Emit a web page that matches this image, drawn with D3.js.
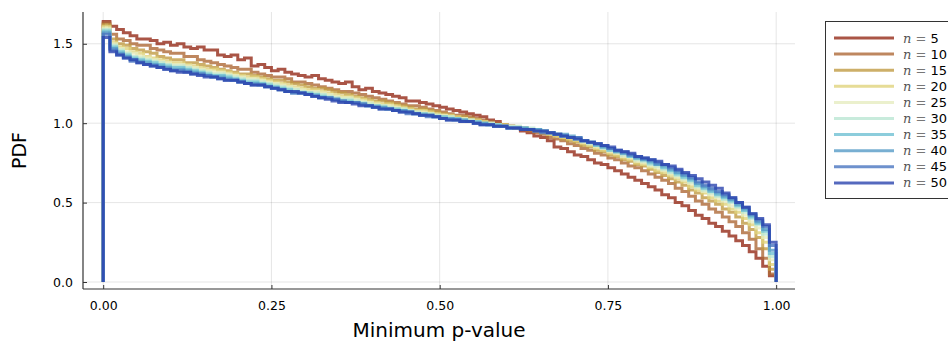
<!DOCTYPE html>
<html lang="en">

<head>
    <meta charset="UTF-8">
    <title>Minimum p-value PDF</title>
    <script src="https://d3js.org/d3.v7.min.js"></script>
    <style>
        body { margin: 0; background: #ffffff; }
        text { font-family: "DejaVu Sans", sans-serif; fill: #000000; }
    </style>
</head>

<body>
    <div id="chart"></div>
    <script>

        // sample sizes shown in the legend
        const sizes = [5, 10, 15, 20, 25, 30, 35, 40, 45, 50];

        // colours of each series (drawn with 0.8 opacity)
        const colors = ["#952a18", "#ae6937", "#c09b43", "#e0d37c", "#e6ecc0",
            "#bae6d3", "#6fc0d3", "#569bc7", "#4a76c0", "#2a43ae"];

        // histogram densities, 100 bins of width 0.01 over [0, 1]
        const pdf5 = [
            1.64, 1.61, 1.59, 1.57, 1.55, 1.53, 1.53, 1.52, 1.50, 1.51,
            1.49, 1.50, 1.48, 1.47, 1.48, 1.46, 1.46, 1.43, 1.42, 1.43,
            1.40, 1.41, 1.36, 1.37, 1.35, 1.33, 1.34, 1.32, 1.31, 1.30,
            1.29, 1.30, 1.28, 1.27, 1.26, 1.25, 1.26, 1.23, 1.21, 1.22,
            1.20, 1.19, 1.18, 1.17, 1.16, 1.14, 1.14, 1.13, 1.12, 1.11,
            1.10, 1.09, 1.08, 1.07, 1.06, 1.05, 1.04, 1.02, 1.01, 0.99,
            0.98, 0.97, 0.95, 0.94, 0.92, 0.91, 0.89, 0.85, 0.84, 0.82,
            0.80, 0.79, 0.77, 0.75, 0.74, 0.72, 0.70, 0.68, 0.66, 0.64,
            0.62, 0.60, 0.58, 0.55, 0.53, 0.50, 0.48, 0.45, 0.42, 0.40,
            0.37, 0.35, 0.32, 0.29, 0.26, 0.23, 0.19, 0.15, 0.10, 0.04];
        const pdf10 = [
            1.63, 1.56, 1.53, 1.52, 1.50, 1.49, 1.49, 1.47, 1.46, 1.45,
            1.44, 1.44, 1.42, 1.42, 1.40, 1.39, 1.38, 1.37, 1.36, 1.35,
            1.34, 1.34, 1.32, 1.31, 1.30, 1.29, 1.29, 1.28, 1.26, 1.26,
            1.25, 1.24, 1.23, 1.22, 1.21, 1.20, 1.20, 1.19, 1.18, 1.17,
            1.16, 1.15, 1.14, 1.13, 1.12, 1.11, 1.11, 1.10, 1.09, 1.08,
            1.07, 1.06, 1.05, 1.05, 1.04, 1.03, 1.02, 1.01, 1.00, 0.99,
            0.98, 0.97, 0.96, 0.95, 0.94, 0.93, 0.91, 0.90, 0.89, 0.87,
            0.86, 0.84, 0.83, 0.81, 0.80, 0.78, 0.77, 0.75, 0.73, 0.72,
            0.70, 0.68, 0.66, 0.64, 0.62, 0.59, 0.57, 0.54, 0.51, 0.49,
            0.46, 0.44, 0.41, 0.38, 0.35, 0.31, 0.27, 0.21, 0.15, 0.05];
        const pdf15 = [
            1.62, 1.53, 1.50, 1.49, 1.47, 1.46, 1.45, 1.44, 1.42, 1.41,
            1.40, 1.40, 1.38, 1.38, 1.37, 1.36, 1.35, 1.34, 1.33, 1.32,
            1.31, 1.31, 1.30, 1.29, 1.28, 1.27, 1.27, 1.26, 1.25, 1.24,
            1.23, 1.22, 1.22, 1.21, 1.20, 1.19, 1.18, 1.17, 1.16, 1.15,
            1.14, 1.14, 1.13, 1.12, 1.11, 1.10, 1.09, 1.09, 1.08, 1.07,
            1.06, 1.05, 1.04, 1.04, 1.03, 1.02, 1.01, 1.00, 0.99, 0.99,
            0.98, 0.97, 0.97, 0.96, 0.95, 0.94, 0.93, 0.92, 0.90, 0.89,
            0.88, 0.86, 0.85, 0.83, 0.82, 0.80, 0.79, 0.77, 0.76, 0.74,
            0.73, 0.71, 0.69, 0.67, 0.65, 0.63, 0.61, 0.58, 0.56, 0.53,
            0.51, 0.49, 0.46, 0.44, 0.41, 0.37, 0.33, 0.28, 0.21, 0.08];
        const pdf20 = [
            1.61, 1.51, 1.48, 1.47, 1.45, 1.44, 1.42, 1.41, 1.40, 1.39,
            1.38, 1.38, 1.37, 1.36, 1.35, 1.34, 1.34, 1.33, 1.32, 1.31,
            1.30, 1.29, 1.29, 1.28, 1.27, 1.26, 1.25, 1.24, 1.23, 1.22,
            1.21, 1.21, 1.20, 1.19, 1.18, 1.17, 1.17, 1.16, 1.15, 1.14,
            1.13, 1.12, 1.12, 1.11, 1.10, 1.09, 1.08, 1.08, 1.07, 1.06,
            1.05, 1.05, 1.04, 1.03, 1.02, 1.02, 1.01, 1.00, 0.99, 0.99,
            0.98, 0.97, 0.97, 0.96, 0.95, 0.94, 0.93, 0.92, 0.91, 0.90,
            0.89, 0.87, 0.86, 0.84, 0.83, 0.81, 0.80, 0.78, 0.77, 0.75,
            0.74, 0.72, 0.70, 0.69, 0.67, 0.65, 0.63, 0.60, 0.58, 0.56,
            0.53, 0.51, 0.49, 0.46, 0.44, 0.40, 0.36, 0.31, 0.25, 0.11];
        const pdf25 = [
            1.60, 1.50, 1.47, 1.45, 1.44, 1.42, 1.41, 1.40, 1.39, 1.38,
            1.37, 1.37, 1.36, 1.35, 1.34, 1.33, 1.32, 1.32, 1.31, 1.30,
            1.29, 1.28, 1.28, 1.27, 1.26, 1.25, 1.24, 1.23, 1.22, 1.21,
            1.20, 1.20, 1.19, 1.18, 1.17, 1.16, 1.16, 1.15, 1.14, 1.13,
            1.12, 1.11, 1.11, 1.10, 1.09, 1.08, 1.07, 1.07, 1.06, 1.05,
            1.05, 1.04, 1.03, 1.03, 1.02, 1.01, 1.00, 1.00, 0.99, 0.98,
            0.98, 0.98, 0.97, 0.96, 0.96, 0.95, 0.94, 0.93, 0.92, 0.91,
            0.90, 0.88, 0.87, 0.85, 0.84, 0.82, 0.81, 0.79, 0.78, 0.76,
            0.75, 0.73, 0.72, 0.70, 0.68, 0.66, 0.64, 0.62, 0.59, 0.57,
            0.55, 0.53, 0.51, 0.48, 0.46, 0.42, 0.38, 0.34, 0.28, 0.14];
        const pdf30 = [
            1.59, 1.49, 1.46, 1.44, 1.42, 1.41, 1.40, 1.39, 1.38, 1.37,
            1.36, 1.36, 1.35, 1.34, 1.33, 1.32, 1.31, 1.31, 1.30, 1.29,
            1.28, 1.27, 1.27, 1.26, 1.25, 1.24, 1.23, 1.22, 1.21, 1.20,
            1.19, 1.19, 1.18, 1.17, 1.16, 1.15, 1.15, 1.14, 1.13, 1.12,
            1.11, 1.11, 1.10, 1.09, 1.09, 1.08, 1.07, 1.06, 1.06, 1.05,
            1.04, 1.04, 1.03, 1.02, 1.02, 1.01, 1.00, 1.00, 0.99, 0.98,
            0.98, 0.98, 0.97, 0.97, 0.96, 0.95, 0.94, 0.93, 0.92, 0.91,
            0.90, 0.89, 0.87, 0.86, 0.84, 0.83, 0.82, 0.80, 0.79, 0.77,
            0.76, 0.74, 0.73, 0.71, 0.69, 0.67, 0.65, 0.63, 0.60, 0.58,
            0.56, 0.54, 0.52, 0.50, 0.47, 0.44, 0.40, 0.36, 0.30, 0.16];
        const pdf35 = [
            1.58, 1.48, 1.45, 1.43, 1.41, 1.40, 1.39, 1.38, 1.37, 1.36,
            1.35, 1.35, 1.34, 1.33, 1.32, 1.31, 1.30, 1.30, 1.29, 1.28,
            1.27, 1.26, 1.26, 1.25, 1.24, 1.23, 1.22, 1.21, 1.20, 1.19,
            1.19, 1.18, 1.17, 1.16, 1.15, 1.14, 1.14, 1.13, 1.12, 1.11,
            1.11, 1.10, 1.09, 1.09, 1.08, 1.07, 1.06, 1.06, 1.05, 1.04,
            1.04, 1.03, 1.03, 1.02, 1.01, 1.01, 1.00, 0.99, 0.99, 0.98,
            0.97, 0.97, 0.97, 0.96, 0.96, 0.95, 0.94, 0.93, 0.92, 0.91,
            0.90, 0.89, 0.88, 0.86, 0.85, 0.83, 0.82, 0.81, 0.79, 0.78,
            0.77, 0.75, 0.74, 0.72, 0.70, 0.68, 0.66, 0.64, 0.61, 0.59,
            0.57, 0.55, 0.53, 0.51, 0.48, 0.45, 0.41, 0.37, 0.32, 0.18];
        const pdf40 = [
            1.57, 1.47, 1.44, 1.42, 1.40, 1.39, 1.38, 1.37, 1.36, 1.35,
            1.34, 1.34, 1.33, 1.32, 1.31, 1.30, 1.29, 1.29, 1.28, 1.27,
            1.26, 1.25, 1.25, 1.24, 1.23, 1.22, 1.21, 1.20, 1.19, 1.19,
            1.18, 1.17, 1.16, 1.16, 1.15, 1.14, 1.13, 1.13, 1.12, 1.11,
            1.10, 1.10, 1.09, 1.08, 1.08, 1.07, 1.06, 1.05, 1.05, 1.04,
            1.03, 1.03, 1.02, 1.02, 1.01, 1.00, 1.00, 0.99, 0.98, 0.98,
            0.97, 0.97, 0.97, 0.96, 0.96, 0.95, 0.94, 0.93, 0.93, 0.92,
            0.91, 0.89, 0.88, 0.87, 0.85, 0.84, 0.82, 0.81, 0.80, 0.78,
            0.77, 0.76, 0.74, 0.73, 0.71, 0.69, 0.67, 0.65, 0.62, 0.60,
            0.58, 0.56, 0.54, 0.52, 0.49, 0.46, 0.42, 0.38, 0.33, 0.20];
        const pdf45 = [
            1.56, 1.46, 1.43, 1.41, 1.39, 1.38, 1.37, 1.36, 1.35, 1.34,
            1.33, 1.33, 1.32, 1.31, 1.31, 1.30, 1.29, 1.28, 1.27, 1.27,
            1.26, 1.25, 1.24, 1.24, 1.23, 1.22, 1.21, 1.20, 1.19, 1.19,
            1.18, 1.17, 1.16, 1.16, 1.15, 1.14, 1.13, 1.13, 1.12, 1.11,
            1.10, 1.09, 1.09, 1.08, 1.07, 1.06, 1.06, 1.05, 1.04, 1.04,
            1.03, 1.02, 1.02, 1.01, 1.01, 1.00, 0.99, 0.99, 0.98, 0.98,
            0.97, 0.97, 0.96, 0.96, 0.95, 0.94, 0.94, 0.93, 0.92, 0.91,
            0.91, 0.89, 0.88, 0.87, 0.86, 0.84, 0.83, 0.82, 0.80, 0.79,
            0.78, 0.77, 0.75, 0.74, 0.72, 0.70, 0.68, 0.66, 0.63, 0.61,
            0.59, 0.57, 0.55, 0.53, 0.50, 0.47, 0.43, 0.39, 0.35, 0.23];
        const pdf50 = [
            1.54, 1.45, 1.43, 1.41, 1.40, 1.38, 1.37, 1.36, 1.35, 1.34,
            1.33, 1.32, 1.32, 1.31, 1.30, 1.29, 1.29, 1.28, 1.27, 1.27,
            1.26, 1.25, 1.24, 1.24, 1.23, 1.22, 1.21, 1.20, 1.20, 1.19,
            1.18, 1.17, 1.16, 1.15, 1.14, 1.13, 1.13, 1.12, 1.11, 1.11,
            1.10, 1.09, 1.09, 1.08, 1.07, 1.07, 1.06, 1.05, 1.05, 1.04,
            1.03, 1.02, 1.02, 1.01, 1.01, 1.00, 0.99, 0.99, 0.98, 0.98,
            0.97, 0.97, 0.96, 0.96, 0.95, 0.95, 0.94, 0.93, 0.92, 0.91,
            0.90, 0.89, 0.88, 0.87, 0.86, 0.85, 0.83, 0.82, 0.81, 0.79,
            0.78, 0.77, 0.76, 0.74, 0.73, 0.71, 0.69, 0.67, 0.65, 0.63,
            0.61, 0.59, 0.56, 0.53, 0.50, 0.47, 0.43, 0.40, 0.36, 0.25];

        const series = [pdf5, pdf10, pdf15, pdf20, pdf25, pdf30, pdf35, pdf40, pdf45, pdf50];

        // tick labels
        const xTicks = [0, 0.25, 0.5, 0.75, 1];
        const yTicks = [0, 0.5, 1, 1.5];

        const width = 948;
        const height = 341;
        const plot = { left: 83, right: 795, top: 12, bottom: 289 };

        const svg = d3.select("#chart")
            .append("svg")
            .attr("width", width)
            .attr("height", height);

        const x = d3.scaleLinear()
            .domain([-0.03, 1.028])
            .range([plot.left, plot.right]);

        const y = d3.scaleLinear()
            .domain([-0.044, 1.70])
            .range([plot.bottom, plot.top]);

        // grid lines
        svg.append("g")
            .selectAll("line")
            .data(xTicks)
            .join("line")
            .attr("x1", d => x(d)).attr("x2", d => x(d))
            .attr("y1", plot.top).attr("y2", plot.bottom)
            .attr("stroke", "#000").attr("stroke-opacity", 0.1).attr("stroke-width", 1);

        svg.append("g")
            .selectAll("line")
            .data(yTicks)
            .join("line")
            .attr("x1", plot.left).attr("x2", plot.right)
            .attr("y1", d => y(d)).attr("y2", d => y(d))
            .attr("stroke", "#000").attr("stroke-opacity", 0.1).attr("stroke-width", 1);

        // step outline of every histogram, from (0,0) up, across and back down at 1
        const line = d3.line()
            .x(d => x(d[0]))
            .y(d => y(d[1]))
            .curve(d3.curveStepAfter);

        series.forEach(function (vals, i) {
            const pts = [[0, 0]];
            vals.forEach(function (v, j) { pts.push([j / vals.length, v]); });
            pts.push([1, vals[vals.length - 1]]);
            pts.push([1, 0]);
            svg.append("path")
                .datum(pts)
                .attr("d", line)
                .attr("fill", "none")
                .attr("stroke", colors[i])
                .attr("stroke-opacity", 0.8)
                .attr("stroke-width", 3);
        });

        // axes (spines, inward ticks, labels)
        const xAxis = d3.axisBottom(x)
            .tickValues(xTicks)
            .tickFormat(d3.format(".2f"))
            .tickSizeInner(-4)
            .tickSizeOuter(0)
            .tickPadding(12);

        const yAxis = d3.axisLeft(y)
            .tickValues(yTicks)
            .tickFormat(d3.format(".1f"))
            .tickSizeInner(-4)
            .tickSizeOuter(0)
            .tickPadding(10);

        const gx = svg.append("g")
            .attr("transform", `translate(0, ${plot.bottom})`)
            .call(xAxis);
        gx.select(".domain").attr("d", `M${plot.left},0H${plot.right}`);

        const gy = svg.append("g")
            .attr("transform", `translate(${plot.left}, 0)`)
            .call(yAxis);
        gy.select(".domain").attr("d", `M0,${plot.bottom}V${plot.top}`);

        svg.selectAll(".domain").attr("stroke", "#333").attr("stroke-width", 1.2);
        svg.selectAll(".tick line").attr("stroke", "#333");
        svg.selectAll(".tick text")
            .attr("font-family", "DejaVu Sans")
            .attr("font-size", 12.5)
            .attr("fill", "#000");

        // axis titles
        svg.append("text")
            .attr("x", (plot.left + plot.right) / 2)
            .attr("y", 337)
            .attr("text-anchor", "middle")
            .attr("font-size", 20)
            .text("Minimum p-value");

        svg.append("text")
            .attr("transform", `translate(26, ${(plot.top + plot.bottom) / 2}) rotate(-90)`)
            .attr("text-anchor", "middle")
            .attr("font-size", 19)
            .text("PDF");

        // legend
        const legend = svg.append("g");
        legend.append("rect")
            .attr("x", 825.5).attr("y", 21.5)
            .attr("width", 140).attr("height", 177)
            .attr("fill", "#fff")
            .attr("stroke", "#333").attr("stroke-width", 1);

        const rowH = 16.1;
        sizes.forEach(function (n, i) {
            const ly = 38 + i * rowH;
            legend.append("line")
                .attr("x1", 834).attr("x2", 894)
                .attr("y1", ly).attr("y2", ly)
                .attr("stroke", colors[i])
                .attr("stroke-opacity", 0.8)
                .attr("stroke-width", 3);
            const t = legend.append("text")
                .attr("x", 903)
                .attr("y", ly + 4.5)
                .attr("font-size", 13);
            t.append("tspan")
                .attr("font-family", "DejaVu Serif")
                .attr("font-style", "italic")
                .attr("fill", "#555")
                .text("n");
            t.append("tspan")
                .attr("font-family", "DejaVu Serif")
                .attr("fill", "#777")
                .text(" = ");
            t.append("tspan")
                .text(n);
        });

    </script>

</body>

</html>
